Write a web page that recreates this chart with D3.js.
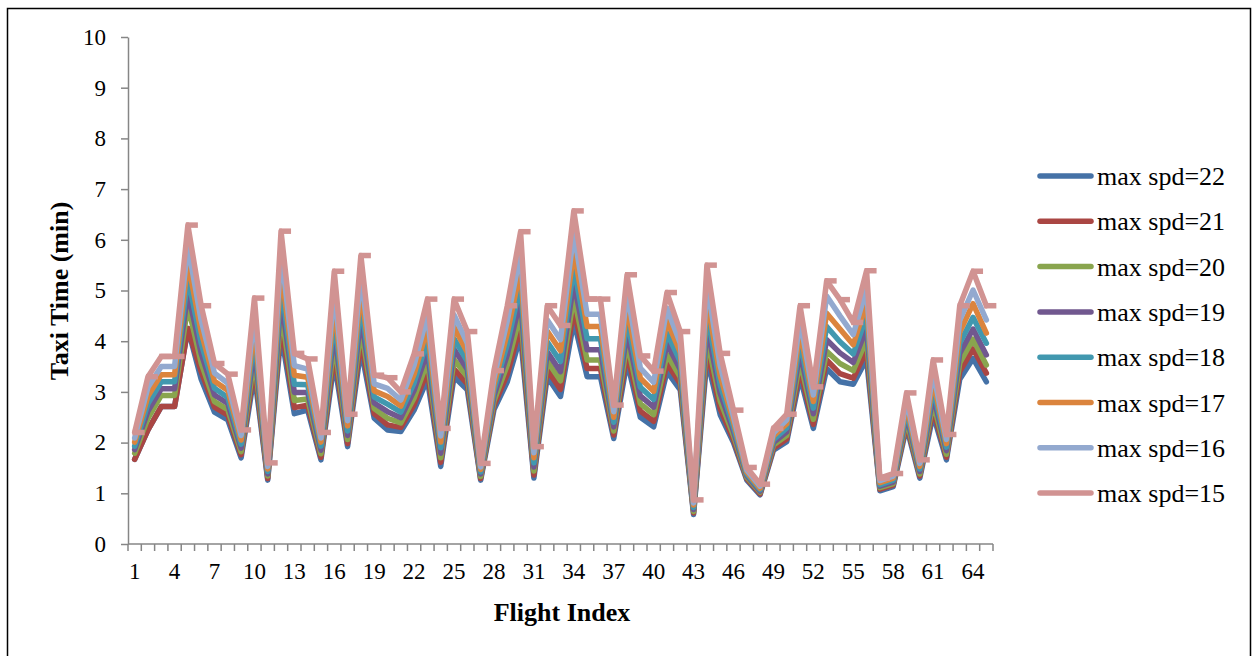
<!DOCTYPE html>
<html>
<head>
<meta charset="utf-8">
<script src="https://cdn.jsdelivr.net/npm/d3@7"></script>
<style>
  body { margin: 0; background: #fff; }
  svg { display: block; font-family: "Liberation Serif", "Times New Roman", serif; }
  .axis path, .axis line { stroke: #868686; stroke-width: 1.5; }
  .axis text { fill: #000; font-size: 23px; font-family: "Liberation Serif", serif; }
</style>
</head>
<body>
<svg width="1253" height="656"></svg>
<script>
// flight index 1..65
var flights = d3.range(1, 66);
var speeds = [22, 21, 20, 19, 18, 17, 16, 15];
var colors = ["#4572A7", "#AA4643", "#89A54E", "#71588F", "#4198AF", "#DB843D", "#93A9CF", "#D19392"];
var xLabels = d3.range(1, 66, 3);

var spd22 = [1.67,2.25,2.71,2.71,4.25,3.25,2.60,2.45,1.70,3.35,
  1.26,4.15,2.57,2.64,1.66,3.60,1.92,3.85,2.48,2.25,
  2.22,2.64,3.25,1.53,3.30,3.04,1.26,2.65,3.20,4.10,
  1.30,3.30,2.91,4.40,3.30,3.30,2.08,3.60,2.50,2.31,
  3.40,3.04,0.58,3.65,2.55,2.00,1.26,0.97,1.85,2.02,
  3.30,2.28,3.46,3.20,3.15,3.65,1.05,1.13,2.31,1.30,
  2.55,1.66,3.25,3.66,3.20];
var spd21 = [1.67,2.25,2.71,2.71,4.25,3.40,2.70,2.54,1.76,3.50,
  1.29,4.35,2.69,2.74,1.71,3.78,1.98,4.03,2.57,2.35,
  2.30,2.75,3.41,1.61,3.45,3.16,1.29,2.73,3.35,4.31,
  1.36,3.44,3.05,4.62,3.46,3.46,2.15,3.77,2.62,2.42,
  3.56,3.16,0.61,3.84,2.67,2.06,1.29,0.99,1.89,2.07,
  3.44,2.36,3.63,3.36,3.27,3.82,1.08,1.16,2.38,1.34,
  2.66,1.71,3.40,3.85,3.37];
var spd20 = [1.79,2.48,2.93,2.93,4.70,3.57,2.81,2.65,1.82,3.68,
  1.34,4.59,2.83,2.86,1.78,3.99,2.06,4.26,2.67,2.48,
  2.39,2.88,3.60,1.70,3.64,3.29,1.33,2.82,3.53,4.55,
  1.44,3.61,3.22,4.88,3.63,3.63,2.23,3.98,2.77,2.55,
  3.74,3.29,0.64,4.06,2.82,2.14,1.32,1.02,1.95,2.14,
  3.61,2.46,3.80,3.56,3.42,4.03,1.11,1.19,2.46,1.38,
  2.79,1.77,3.57,4.04,3.53];
var spd19 = [1.86,2.62,3.06,3.06,4.96,3.76,2.94,2.77,1.89,3.88,
  1.38,4.86,2.99,2.99,1.85,4.22,2.14,4.49,2.78,2.61,
  2.49,3.03,3.80,1.79,3.84,3.44,1.38,2.92,3.73,4.82,
  1.52,3.79,3.40,5.16,3.83,3.83,2.31,4.20,2.92,2.70,
  3.95,3.44,0.68,4.30,2.97,2.22,1.35,1.04,2.00,2.21,
  3.79,2.57,4.03,3.77,3.58,4.26,1.14,1.22,2.55,1.43,
  2.93,1.84,3.76,4.24,3.73];
var spd18 = [1.93,2.77,3.20,3.20,5.25,3.96,3.07,2.89,1.97,4.09,
  1.43,5.14,3.15,3.14,1.93,4.47,2.23,4.75,2.90,2.76,
  2.60,3.18,4.02,1.90,4.05,3.60,1.42,3.03,3.94,5.11,
  1.60,3.99,3.60,5.46,4.05,4.05,2.40,4.44,3.09,2.85,
  4.16,3.60,0.72,4.56,3.14,2.31,1.38,1.07,2.06,2.29,
  3.99,2.68,4.29,3.99,3.75,4.50,1.17,1.26,2.64,1.48,
  3.08,1.91,3.96,4.47,3.96];
var spd17 = [2.01,2.92,3.34,3.34,5.56,4.18,3.21,3.03,2.05,4.31,
  1.48,5.44,3.33,3.29,2.01,4.74,2.33,5.03,3.02,2.91,
  2.72,3.35,4.26,2.01,4.28,3.78,1.47,3.14,4.16,5.42,
  1.70,4.20,3.81,5.79,4.29,4.29,2.50,4.69,3.27,3.01,
  4.40,3.78,0.77,4.83,3.32,2.41,1.42,1.10,2.13,2.37,
  4.20,2.81,4.55,4.24,3.93,4.76,1.21,1.30,2.74,1.53,
  3.24,1.98,4.18,4.74,4.16];
var spd16 = [2.09,3.09,3.50,3.50,5.88,4.41,3.37,3.17,2.14,4.55,
  1.53,5.77,3.52,3.45,2.09,5.02,2.43,5.32,3.16,3.07,
  2.84,3.53,4.51,2.13,4.52,3.96,1.52,3.27,4.40,5.75,
  1.80,4.42,4.03,6.14,4.53,4.53,2.61,4.97,3.47,3.19,
  4.65,3.96,0.81,5.13,3.52,2.51,1.46,1.14,2.19,2.45,
  4.42,2.94,4.89,4.50,4.13,5.04,1.25,1.34,2.85,1.59,
  3.41,2.06,4.41,5.01,4.42];
var spd15 = [2.20,3.30,3.70,3.70,6.29,4.70,3.56,3.35,2.25,4.85,
  1.60,6.17,3.76,3.65,2.20,5.38,2.56,5.69,3.33,3.28,
  3.00,3.75,4.83,2.28,4.83,4.19,1.59,3.42,4.70,6.16,
  1.92,4.70,4.31,6.57,4.83,4.83,2.74,5.31,3.71,3.41,
  4.96,4.19,0.87,5.50,3.76,2.64,1.51,1.18,2.28,2.56,
  4.70,3.10,5.19,4.82,4.37,5.39,1.30,1.39,2.98,1.66,
  3.63,2.16,4.70,5.38,4.70];

var seriesValues = [spd22, spd21, spd20, spd19, spd18, spd17, spd16, spd15];

var svg = d3.select("svg");

// outer frame
svg.append("rect")
  .attr("x", 7.5).attr("y", 8.5)
  .attr("width", 1243).attr("height", 660)
  .attr("fill", "none").attr("stroke", "#000").attr("stroke-width", 1.5);

var x = d3.scaleBand().domain(flights).range([128, 993]).padding(0);
var y = d3.scaleLinear().domain([0, 10]).range([544, 37]);
var cx = function(d) { return x(d) + x.bandwidth() / 2; };

// y axis
svg.append("g")
  .attr("class", "axis")
  .attr("transform", "translate(128,0)")
  .call(d3.axisLeft(y).ticks(10).tickSize(7).tickSizeOuter(0).tickPadding(15));

// x axis: labels every 3rd flight, ticks between categories
var xAxis = svg.append("g")
  .attr("class", "axis")
  .attr("transform", "translate(0,544)")
  .call(d3.axisBottom(x).tickValues(xLabels).tickSize(0).tickPadding(19));
xAxis.select(".domain").attr("d", "M128,0H993");

xAxis.selectAll(".between")
  .data(flights.concat([null]))
  .enter().append("line")
  .attr("class", "between")
  .attr("x1", function(d) { return d === null ? 993 : x(d); })
  .attr("x2", function(d) { return d === null ? 993 : x(d); })
  .attr("y1", 0).attr("y2", 7);

// axis titles
svg.append("text")
  .attr("transform", "translate(68,291) rotate(-90)")
  .attr("text-anchor", "middle")
  .style("font-size", "26px").style("font-weight", "bold")
  .text("Taxi Time (min)");

svg.append("text")
  .attr("x", 562).attr("y", 621)
  .attr("text-anchor", "middle")
  .style("font-size", "26px").style("font-weight", "bold")
  .text("Flight Index");

// lines
var line = d3.line()
  .x(function(d, i) { return cx(flights[i]); })
  .y(function(d) { return y(d); });

var plot = svg.append("g");
seriesValues.forEach(function(vals, k) {
  plot.append("path")
    .attr("d", line(vals))
    .attr("fill", "none")
    .attr("stroke", colors[k])
    .attr("stroke-width", 5.5)
    .attr("stroke-linejoin", "round")
    .attr("stroke-linecap", "round");
});

// dash markers on the max spd=15 series
plot.selectAll(".dash")
  .data(spd15)
  .enter().append("line")
  .attr("class", "dash")
  .attr("x1", function(d, i) { return cx(flights[i]) - 2; })
  .attr("x2", function(d, i) { return cx(flights[i]) + 10; })
  .attr("y1", function(d) { return y(d); })
  .attr("y2", function(d) { return y(d); })
  .attr("stroke", colors[7])
  .attr("stroke-width", 5.5);

// legend
var legend = svg.append("g");
speeds.forEach(function(s, k) {
  var ly = 176 + k * 45.3;
  legend.append("line")
    .attr("x1", 1040).attr("x2", 1091)
    .attr("y1", ly).attr("y2", ly)
    .attr("stroke", colors[k]).attr("stroke-width", 5.5)
    .attr("stroke-linecap", "round");
  legend.append("text")
    .attr("x", 1097).attr("y", ly + 9)
    .style("font-size", "26px")
    .text("max spd=" + s);
});
</script>
</body>
</html>
